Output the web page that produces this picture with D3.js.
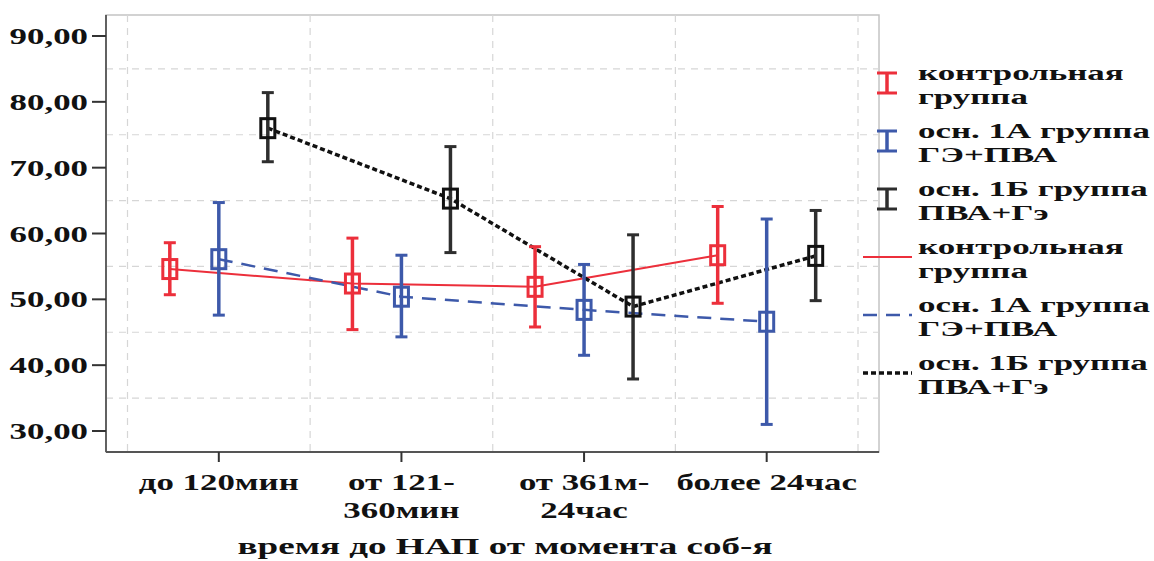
<!DOCTYPE html>
<html><head><meta charset="utf-8">
<script src="https://cdn.jsdelivr.net/npm/d3@7"></script>
<style>body{margin:0;background:#fff}svg{display:block}</style>
</head><body>
<svg id="c" width="1154" height="561"></svg>
<script>
// ---- data ----
const categories = ["до 120мин", "от 121-360мин", "от 361м-24час", "более 24час"];
const categoryLabels = [["до 120мин"], ["от 121-", "360мин"], ["от 361м-", "24час"], ["более 24час"]];
const seriesNames = ["контрольная группа", "осн. 1А группа ГЭ+ПВА", "осн. 1Б группа ПВА+Гэ"];
const legendLines = [["контрольная", "группа"], ["осн. 1А группа", "ГЭ+ПВА"], ["осн. 1Б группа", "ПВА+Гэ"]];
const controlMean = [54.6, 52.4, 51.9, 56.7];
const controlLow  = [50.7, 45.4, 45.8, 49.4];
const controlHigh = [58.6, 59.3, 58.0, 64.1];
const g1aMean = [56.1, 50.4, 48.4, 46.6];
const g1aLow  = [47.6, 44.3, 41.5, 31.0];
const g1aHigh = [64.7, 56.7, 55.3, 62.2];
const g1bMean = [76.0, 65.3, 48.9, 56.6];
const g1bLow  = [70.9, 57.1, 37.9, 49.8];
const g1bHigh = [81.4, 73.2, 59.8, 63.5];
const yTicks = [30, 40, 50, 60, 70, 80, 90];
const yGrid = [35, 45, 55, 65, 75, 85];
const xTitle = "время до НАП от момента соб-я";

(function () {
const FONT = "'Liberation Serif', 'Times New Roman', 'DejaVu Serif', serif";
const colors = ["#ec2f3b", "#3d59aa", "#2e2e2e"];
const lineColors = ["#ec2f3b", "#3d59aa", "#111"];
const dashes = [null, "14,9", "5,3"];
const lineWidths = [2, 2.5, 3.5];

const series = [
  {name: seriesNames[0], mean: controlMean, low: controlLow, high: controlHigh},
  {name: seriesNames[1], mean: g1aMean, low: g1aLow, high: g1aHigh},
  {name: seriesNames[2], mean: g1bMean, low: g1bLow, high: g1bHigh}
];

const svg = d3.select("#c");
// calibrate horizontal stretch against widths seen in the reference
function calib(str, size, target) {
  const p = svg.append("text").attr("font-family", FONT).attr("font-weight", "bold").style("font-size", size + "px").text(str);
  const w = p.node().getComputedTextLength();
  p.remove();
  return target / w;
}
const LS = 23, TS = 23, GS = 22;
const SX = calib("до 120мин", LS, 160);
const SXT = calib(xTitle, TS, 535);
const SXL = calib("осн. 1А группа", GS, 232);

const pl = 106, pr = 879, pt = 15, pb = 452;
const y = d3.scaleLinear().domain([26.81, 93.19]).range([pb, pt]);
const x = d3.scaleBand().domain(categories).range([127.5, 858]).padding(0);
const off = d3.scalePoint().domain(seriesNames).range([-49, 49]);
const cx = (i) => x(categories[i]) + x.bandwidth() / 2;

function stext(g, tx, ty, str, size, anchor, sx) {
  return g.append("text").attr("transform", `translate(${tx},${ty}) scale(${sx},1)`)
    .attr("font-family", FONT).attr("font-weight", "bold").attr("fill", "#111")
    .attr("text-anchor", anchor).style("font-size", size + "px").text(str);
}

// frame
svg.append("rect").attr("x", pl).attr("y", pt).attr("width", pr - pl).attr("height", pb - pt)
  .attr("fill", "#fff").attr("stroke", "#c4c4c4").attr("stroke-width", 1.5);

// grid
const grid = svg.append("g").attr("stroke", "#d6d6d6").attr("stroke-width", 1.2).attr("stroke-dasharray", "7,6");
grid.selectAll("line.h").data(yGrid).join("line").attr("class", "h")
  .attr("x1", pl).attr("x2", pr).attr("y1", d => y(d)).attr("y2", d => y(d));
const edges = categories.map(c => x(c)).concat([x(categories[3]) + x.bandwidth()]);
grid.selectAll("line.v").data(edges).join("line").attr("class", "v")
  .attr("x1", d => d).attr("x2", d => d).attr("y1", pt).attr("y2", pb);

// axes lines
svg.append("line").attr("x1", pl).attr("x2", pl).attr("y1", pt).attr("y2", pb).attr("stroke", "#555").attr("stroke-width", 1.8);
svg.append("line").attr("x1", pl).attr("x2", pr).attr("y1", pb).attr("y2", pb).attr("stroke", "#555").attr("stroke-width", 1.8);

// y axis
const ya = svg.append("g");
yTicks.forEach(t => {
  ya.append("line").attr("x1", pl - 14).attr("x2", pl).attr("y1", y(t)).attr("y2", y(t)).attr("stroke", "#333").attr("stroke-width", 2);
  stext(ya, 88, y(t) + 8, d3.format(".2f")(t).replace(".", ","), LS, "end", SX);
});

// x axis
const xa = svg.append("g");
categories.forEach((c, i) => {
  xa.append("line").attr("x1", cx(i)).attr("x2", cx(i)).attr("y1", pb).attr("y2", pb + 10).attr("stroke", "#333").attr("stroke-width", 2);
  categoryLabels[i].forEach((ln, k) => stext(xa, cx(i), 490 + k * 28, ln, LS, "middle", SX));
});
stext(svg, 505, 554, xTitle, TS, "middle", SXT);

// lines
series.forEach((s, si) => {
  const line = d3.line().x((d, i) => cx(i) + off(s.name)).y(d => y(d));
  svg.append("path").attr("d", line(s.mean)).attr("fill", "none").attr("stroke", lineColors[si])
    .attr("stroke-width", lineWidths[si]).attr("stroke-dasharray", dashes[si]);
});

// error bars + markers
series.forEach((s, si) => {
  const g = svg.append("g").attr("stroke", colors[si]).attr("fill", "none");
  s.mean.forEach((m, i) => {
    const px = cx(i) + off(s.name);
    g.append("line").attr("x1", px).attr("x2", px).attr("y1", y(s.low[i])).attr("y2", y(s.high[i])).attr("stroke-width", 3.5);
    [s.low[i], s.high[i]].forEach(v => g.append("line").attr("x1", px - 6).attr("x2", px + 6).attr("y1", y(v)).attr("y2", y(v)).attr("stroke-width", 3));
    g.append("rect").attr("x", px - 7).attr("y", y(m) - 9.5).attr("width", 14).attr("height", 19)
      .attr("stroke", si === 2 ? "#111" : colors[si]).attr("stroke-width", 3);
  });
});

// legend
const lg = svg.append("g");
const baselines = [80, 138, 196, 254, 312, 370];
for (let k = 0; k < 6; k++) {
  const si = k % 3, b = baselines[k], cy = b + 3;
  if (k < 3) {
    lg.append("line").attr("x1", 887).attr("x2", 887).attr("y1", cy - 10).attr("y2", cy + 10).attr("stroke", colors[si]).attr("stroke-width", 3.5);
    [cy - 10, cy + 10].forEach(v => lg.append("line").attr("x1", 877).attr("x2", 897).attr("y1", v).attr("y2", v).attr("stroke", colors[si]).attr("stroke-width", 3));
  } else {
    lg.append("line").attr("x1", 863).attr("x2", 912).attr("y1", cy).attr("y2", cy).attr("stroke", lineColors[si])
      .attr("stroke-width", lineWidths[si]).attr("stroke-dasharray", dashes[si]);
  }
  legendLines[si].forEach((ln, j) => stext(lg, 918, b + j * 24, ln, GS, "start", SXL));
}
})();
</script>
</body></html>
